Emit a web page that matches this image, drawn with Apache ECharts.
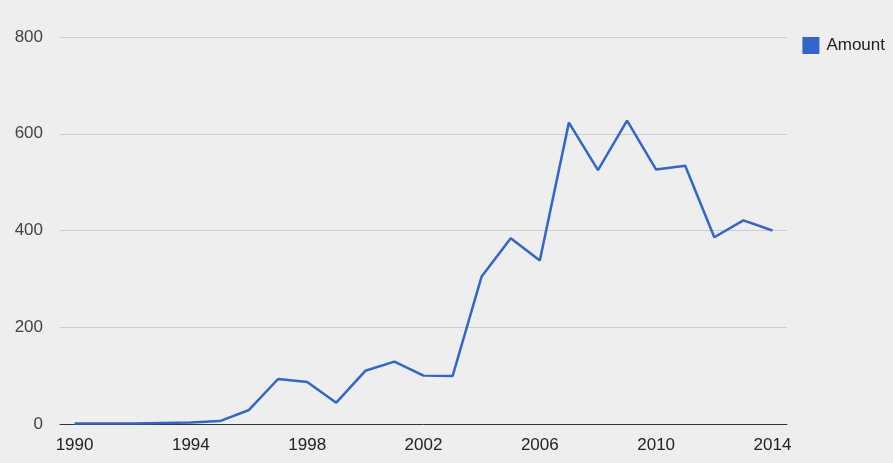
<!DOCTYPE html>
<html>
<head>
<meta charset="utf-8">
<script src="https://cdn.jsdelivr.net/npm/echarts@6/dist/echarts.min.js"></script>
<style>
  html, body { margin: 0; padding: 0; background: #eeeeee; }
  #chart { width: 893px; height: 463px; }
</style>
</head>
<body>
<div id="chart"></div>
<script>
// Yearly amounts, 1990–2014
const years = ['1990','1991','1992','1993','1994','1995','1996','1997','1998','1999','2000','2001','2002',
               '2003','2004','2005','2006','2007','2008','2009','2010','2011','2012','2013','2014'];
const amount = [1, 1, 1, 2, 3, 6, 29, 93, 87, 44, 110, 129, 100,
                99, 305, 384, 338, 623, 525, 627, 526, 534, 386, 421, 400];
const yTicks = { min: 0, max: 800, step: 200 };

const chart = echarts.init(document.getElementById('chart'), null, { renderer: 'canvas' });
chart.setOption({
  backgroundColor: '#eeeeee',
  animation: false,
  textStyle: { fontFamily: 'Liberation Sans, Arial, sans-serif' },
  grid: { left: 60, right: 106, top: 37, bottom: 39 },
  legend: {
    data: ['Amount'],
    right: 3,
    top: 32,
    orient: 'vertical',
    itemWidth: 17,
    itemHeight: 17,
    itemGap: 8,
    icon: 'rect',
    textStyle: { fontSize: 17, color: '#222222', padding: [0, 0, 0, 2],
                 fontFamily: 'Liberation Sans, Arial, sans-serif' }
  },
  xAxis: {
    type: 'category',
    data: years,
    boundaryGap: true,
    axisLine: { lineStyle: { color: '#333333', width: 1 } },
    axisTick: { show: false },
    axisLabel: { interval: 3, color: '#222222', fontSize: 17, margin: 13 },
    splitLine: { show: false }
  },
  yAxis: {
    type: 'value',
    min: yTicks.min,
    max: yTicks.max,
    interval: yTicks.step,
    axisLine: { show: false },
    axisTick: { show: false },
    axisLabel: { color: '#444444', fontSize: 17, margin: 17 },
    splitLine: { lineStyle: { color: '#cccccc', width: 1 } }
  },
  series: [{
    name: 'Amount',
    type: 'line',
    data: amount,
    symbol: 'none',
    itemStyle: { color: '#3366cc' },
    lineStyle: { color: '#3366cc', width: 2.5 }
  }]
});
</script>
</body>
</html>
